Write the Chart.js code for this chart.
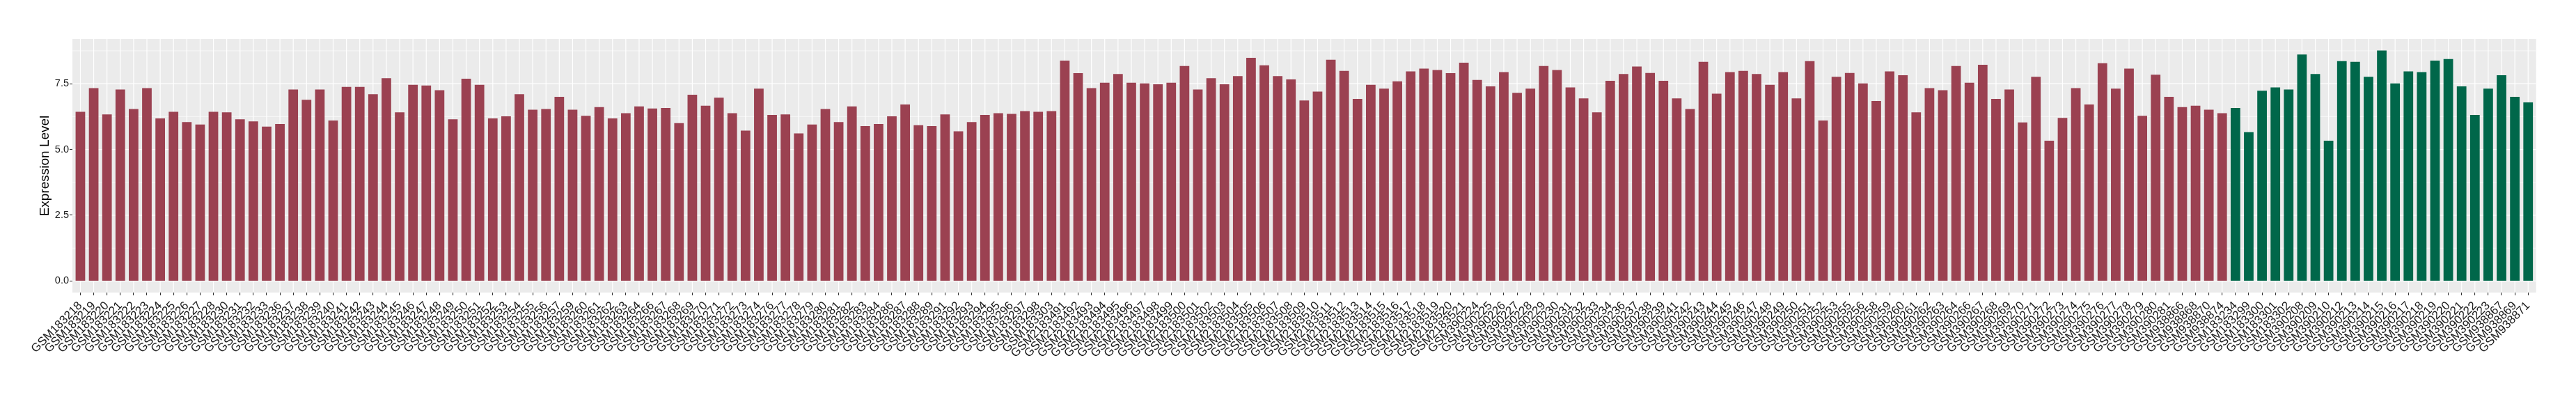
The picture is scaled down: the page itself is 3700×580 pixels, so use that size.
<!DOCTYPE html>
<html><head><meta charset="utf-8">
<script src="https://cdn.jsdelivr.net/npm/chart.js@4/dist/chart.umd.min.js"></script>
<style>html,body{margin:0;padding:0;background:#fff;}canvas{display:block;}</style>
</head><body>
<div style="width:3700px;height:580px;"><canvas id="c" width="3700" height="580"></canvas></div>
<script>
const redLabels = [
 "GSM183218","GSM183219","GSM183220","GSM183221","GSM183222","GSM183223","GSM183224","GSM183225","GSM183226","GSM183227",
 "GSM183228","GSM183230","GSM183231","GSM183232","GSM183233","GSM183236","GSM183237","GSM183238","GSM183239","GSM183240",
 "GSM183241","GSM183242","GSM183243","GSM183244","GSM183245","GSM183246","GSM183247","GSM183248","GSM183249","GSM183250",
 "GSM183251","GSM183252","GSM183253","GSM183254","GSM183255","GSM183256","GSM183257","GSM183259","GSM183260","GSM183261",
 "GSM183262","GSM183263","GSM183264","GSM183266","GSM183267","GSM183268","GSM183269","GSM183270","GSM183271","GSM183272",
 "GSM183273","GSM183274","GSM183276","GSM183277","GSM183278","GSM183279","GSM183280","GSM183281","GSM183282","GSM183283",
 "GSM183284","GSM183286","GSM183287","GSM183288","GSM183289","GSM183291","GSM183292","GSM183293","GSM183294","GSM183295",
 "GSM183296","GSM183297","GSM183298","GSM183303","GSM2183491","GSM2183492","GSM2183493","GSM2183494","GSM2183495","GSM2183496",
 "GSM2183497","GSM2183498","GSM2183499","GSM2183500","GSM2183501","GSM2183502","GSM2183503","GSM2183504","GSM2183505","GSM2183506",
 "GSM2183507","GSM2183508","GSM2183509","GSM2183510","GSM2183511","GSM2183512","GSM2183513","GSM2183514","GSM2183515","GSM2183516",
 "GSM2183517","GSM2183518","GSM2183519","GSM2183520","GSM2183521","GSM390224","GSM390225","GSM390226","GSM390227","GSM390228",
 "GSM390229","GSM390230","GSM390231","GSM390232","GSM390233","GSM390234","GSM390236","GSM390237","GSM390238","GSM390239",
 "GSM390241","GSM390242","GSM390243","GSM390244","GSM390245","GSM390246","GSM390247","GSM390248","GSM390249","GSM390250",
 "GSM390251","GSM390252","GSM390253","GSM390255","GSM390256","GSM390258","GSM390259","GSM390260","GSM390261","GSM390262",
 "GSM390263","GSM390264","GSM390266","GSM390267","GSM390268","GSM390269","GSM390270","GSM390271","GSM390272","GSM390273",
 "GSM390274","GSM390275","GSM390276","GSM390277","GSM390278","GSM390279","GSM390280","GSM390281","GSM938866","GSM938868",
 "GSM938870","GSM938874"
];
const redValues = [
 6.43,7.33,6.33,7.28,6.54,7.33,6.18,6.43,6.04,5.95,
 6.43,6.41,6.15,6.07,5.87,5.97,7.28,6.89,7.28,6.10,
 7.38,7.38,7.10,7.71,6.41,7.46,7.43,7.25,6.15,7.69,
 7.46,6.18,6.26,7.10,6.51,6.54,7.00,6.51,6.28,6.61,
 6.18,6.38,6.64,6.56,6.58,6.00,7.08,6.66,6.97,6.38,
 5.72,7.31,6.31,6.33,5.61,5.95,6.54,6.04,6.64,5.89,
 5.97,6.26,6.71,5.92,5.89,6.33,5.69,6.04,6.31,6.38,
 6.35,6.46,6.43,6.46,8.38,7.90,7.33,7.54,7.87,7.54,
 7.51,7.48,7.54,8.17,7.28,7.71,7.48,7.79,8.48,8.20,
 7.79,7.66,6.86,7.20,8.41,7.99,6.92,7.46,7.31,7.59,
 7.97,8.07,8.02,7.90,8.30,7.64,7.40,7.94,7.15,7.31,
 8.17,8.02,7.36,6.94,6.41,7.61,7.87,8.15,7.91,7.61,
 6.94,6.54,8.33,7.12,7.94,7.99,7.87,7.46,7.94,6.94,
 8.36,6.10,7.76,7.91,7.51,6.84,7.97,7.82,6.41,7.33,
 7.25,8.17,7.54,8.22,6.92,7.28,6.03,7.76,5.33,6.20,
 7.33,6.71,8.28,7.31,8.07,6.28,7.84,7.00,6.61,6.66,
 6.51,6.38
];
const greenLabels = [
 "GSM183234","GSM183299","GSM183300","GSM183301","GSM183302","GSM390208","GSM390209","GSM390210","GSM390212","GSM390213",
 "GSM390214","GSM390215","GSM390216","GSM390217","GSM390218","GSM390219","GSM390220","GSM390221","GSM390222","GSM390223",
 "GSM938867","GSM938869","GSM938871"
];
const greenValues = [
 6.58,5.66,7.23,7.36,7.28,8.61,7.87,5.33,8.36,8.33,
 7.76,8.76,7.51,7.97,7.94,8.38,8.44,7.40,6.31,7.31,
 7.82,7.00,6.79
];
const yTickValues = [0, 2.5, 5, 7.5];
const yMinorValues = [1.25, 3.75, 6.25, 8.75];
const redColor = '#9B4151';
const greenColor = '#00674A';

const categories = redLabels.concat(greenLabels);
const allValues = redValues.concat(greenValues);
const vmax = Math.max(...allValues);
const n = categories.length;

const panelPlugin = {
  id: 'panel',
  beforeDatasetsDraw(chart) {
    const {ctx, chartArea: a, scales: {x, y}} = chart;
    ctx.save();
    ctx.fillStyle = '#EBEBEB';
    ctx.fillRect(a.left, a.top, a.right - a.left, a.bottom - a.top);
    ctx.strokeStyle = '#FFFFFF';
    const hline = (v, w) => { const p = y.getPixelForValue(v); ctx.lineWidth = w; ctx.beginPath(); ctx.moveTo(a.left, p); ctx.lineTo(a.right, p); ctx.stroke(); };
    yMinorValues.forEach(v => hline(v, 0.6));
    yTickValues.forEach(v => hline(v, 1.2));
    ctx.lineWidth = 1.2;
    categories.forEach((_, i) => { const p = x.getPixelForValue(i); ctx.beginPath(); ctx.moveTo(p, a.top); ctx.lineTo(p, a.bottom); ctx.stroke(); });
    ctx.restore();
  }
};

Chart.defaults.font.family = "'Liberation Sans', Arial, sans-serif";

new Chart(document.getElementById('c'), {
  type: 'bar',
  data: {
    datasets: [{
      label: 'Expression Level',
      data: allValues.map((v, i) => ({x: i, y: v})),
      backgroundColor: categories.map((_, i) => i < redLabels.length ? redColor : greenColor),
      barPercentage: 0.72,
      categoryPercentage: 1.0,
      borderWidth: 0
    }]
  },
  options: {
    responsive: false,
    animation: false,
    devicePixelRatio: 1,
    layout: {padding: {top: 56, right: 57.3, left: 0, bottom: 0}},
    plugins: {legend: {display: false}, tooltip: {enabled: false}},
    scales: {
      x: {
        type: 'linear', min: -0.6, max: n - 1 + 0.6, offset: false,
        afterBuildTicks: s => { s.ticks = categories.map((_, i) => ({value: i})); },
        afterFit: s => { s.height = 160; },
        ticks: {autoSkip: false, minRotation: 45, maxRotation: 45, padding: 5, color: '#1A1A1A',
                font: {size: 17}, callback: v => categories[v]},
        grid: {offset: false, drawOnChartArea: false, drawTicks: true, tickLength: 4, tickColor: '#333333', lineWidth: 1.1},
        border: {display: false}
      },
      y: {
        min: -0.05 * vmax, max: 1.05 * vmax,
        afterBuildTicks: s => { s.ticks = yTickValues.map(v => ({value: v})); },
        afterFit: s => { s.width = 104; },
        ticks: {color: '#1A1A1A', font: {size: 14.5}, padding: 1, callback: v => v.toFixed(1)},
        grid: {drawOnChartArea: false, drawTicks: true, tickLength: 4, tickColor: '#333333', lineWidth: 1.1},
        border: {display: false},
        title: {display: true, text: 'Expression Level', color: '#000000', font: {size: 19}, padding: {top: 53, bottom: 0}}
      }
    }
  },
  plugins: [panelPlugin]
});
</script>
</body></html>
